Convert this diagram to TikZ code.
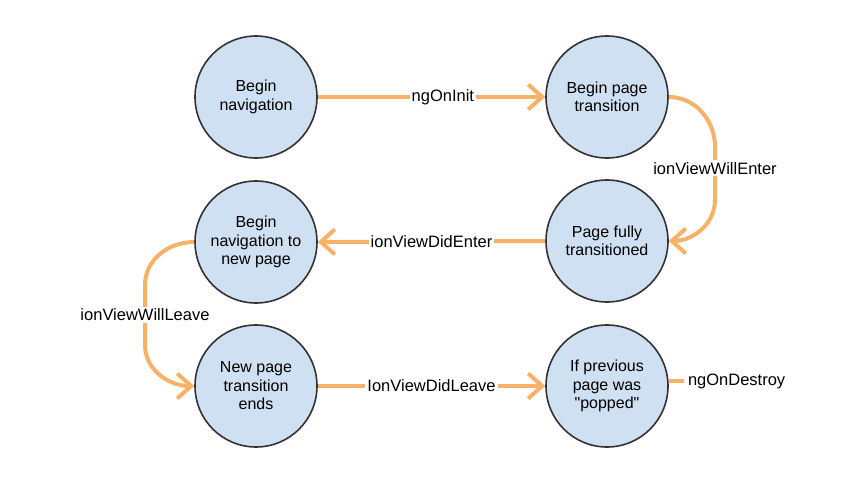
\documentclass[tikz,border=0pt]{standalone}
\usepackage{fontspec}
\setmainfont{Liberation Sans}[Ligatures=TeXOff]
\usetikzlibrary{arrows.meta}
\definecolor{nodefill}{RGB}{207,224,242}
\definecolor{nodeline}{RGB}{51,51,51}
\definecolor{flow}{RGB}{247,178,104}
\begin{document}
\begin{tikzpicture}[x=1pt,y=-1pt,
  state/.style={circle,draw=nodeline,line width=1.6pt,fill=nodefill,minimum size=122pt,inner sep=0pt,align=center,font=\fontsize{16}{18.5}\selectfont},
  flowline/.style={draw=flow,line width=4pt,-{Straight Barb[length=14pt,width=25pt,line width=4pt]}},
  plainflow/.style={draw=flow,line width=4pt},
  lbl/.style={fill=white,inner sep=2pt,font=\fontsize{16.5}{19}\selectfont}]
\useasboundingbox (0,0) rectangle (854,479);
\node[state] (n1) at (256,97) {Begin\\navigation};
\node[state] (n2) at (607,97) {Begin page\\transition};
\node[state] (n3) at (607,241) {Page fully\\transitioned};
\node[state] (n4) at (256,242) {Begin\\navigation to\\new page};
\node[state] (n5) at (256,386) {New page\\transition\\ends};
\node[state] (n6) at (607,386) {If previous\\page was\\"popped"};
\coordinate (d) at (684,381);

\draw[flowline] (n1.east) -- node[lbl,pos=0.55] {ngOnInit} (n2.west);
\draw[flowline] (n2.east) to[out=0,in=90] (715,147) -- node[lbl,pos=0.4] {ionViewWillEnter} (715,200) to[out=-90,in=0] (n3.east);
\draw[flowline] (n3.west) -- node[lbl] {ionViewDidEnter} (n4.east);
\draw[flowline] (n4.west) to[out=180,in=90] (145,285) -- node[lbl,pos=0.5] {ionViewWillLeave} (145,345) to[out=-90,in=180] (n5.west);
\draw[flowline] (n5.east) -- node[lbl] {IonViewDidLeave} (n6.west);
\draw[plainflow] (n6.east |- d) -- (d) node[right,inner sep=2pt,font=\fontsize{16.5}{19}\selectfont] (t) {ngOnDestroy};
\end{tikzpicture}
\end{document}
